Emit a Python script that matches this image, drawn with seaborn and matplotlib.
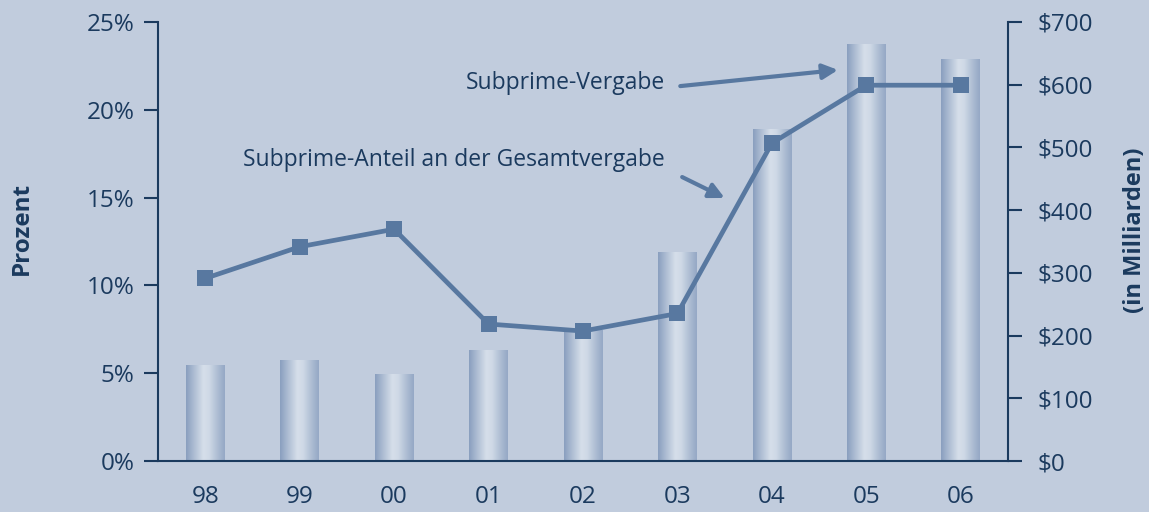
import matplotlib
matplotlib.use('Agg')
import matplotlib.pyplot as plt
import matplotlib.ticker as mticker
import numpy as np
import pandas as pd
import seaborn as sns

# data
years = ["98", "99", "00", "01", "02", "03", "04", "05", "06"]
vergabe_mrd = [153, 161, 139, 177, 209, 333, 529, 665, 641]        # bars, $ billion
anteil_pct = [10.4, 12.2, 13.2, 7.8, 7.4, 8.4, 18.1, 21.4, 21.4]   # line, percent

BG = "#C1CCDD"
NAVY = "#1B3A5E"
LINE = "#5878A0"

sns.set_style("white")
plt.rcParams['font.family'] = ['Open Sans', 'DejaVu Sans']

df = pd.DataFrame({"jahr": years, "vergabe": vergabe_mrd, "anteil": anteil_pct})

fig = plt.figure(figsize=(11.49, 5.12), dpi=100, facecolor=BG)
ax = fig.add_axes([158 / 1149, 51 / 512, 850 / 1149, 439 / 512])
ax2 = ax.twinx()

# bars on the dollar axis (drawn underneath)
sns.barplot(data=df, x="jahr", y="vergabe", ax=ax2, width=0.41, color="#A0B2CC",
            linewidth=0, saturation=1)
ax2.set_facecolor("white")
ax2.set_zorder(1)
ax.set_zorder(2)
ax.patch.set_visible(False)

# horizontal gradient inside each bar
prof = np.array([0.0, 0.15, 0.45, 0.6, 0.85, 1.0])
light = np.array([0.0, 0.35, 1.0, 0.9, 0.4, 0.15])
xs = np.linspace(0, 1, 64)
t = np.interp(xs, prof, light)
dark = np.array([0x8A, 0x9F, 0xBF]) / 255
lite = np.array([0xD6, 0xDF, 0xEA]) / 255
grad = (dark[None, :] * (1 - t[:, None]) + lite[None, :] * t[:, None])[None, :, :]
for p in ax2.patches:
    x0, y0 = p.get_x(), p.get_y()
    w, h = p.get_width(), p.get_height()
    p.set_facecolor("none")
    im = ax2.imshow(grad, extent=[x0, x0 + w, y0, y0 + h], aspect="auto",
                    interpolation="bicubic", zorder=2)
    im.set_clip_path(p)

# percentage line on the left axis
sns.lineplot(x=np.arange(len(years)), y=anteil_pct, ax=ax, color=LINE, lw=3.4,
             marker="s", markersize=12, markeredgewidth=0, zorder=5)

ax.set_xlim(-0.5, len(years) - 0.5)
ax2.set_xlim(-0.5, len(years) - 0.5)
ax.set_ylim(0, 25)
ax2.set_ylim(0, 700)

ax.set_yticks(range(0, 26, 5))
ax.yaxis.set_major_formatter(mticker.FuncFormatter(lambda v, _: f"{v:.0f}%"))
ax2.set_yticks(range(0, 701, 100))
ax2.yaxis.set_major_formatter(mticker.FuncFormatter(lambda v, _: f"${v:.0f}"))

ax.set_xticks(range(len(years)))
ax.set_xticklabels(years)
ax.set_xticks(np.arange(-0.5, len(years)), minor=True)
ax.tick_params(axis="x", which="major", length=0, pad=17, labelsize=17.5, labelcolor=NAVY)
ax.tick_params(axis="x", which="minor", length=10, width=1.5, color=NAVY, direction="out")
ax.tick_params(axis="y", length=10, width=1.5, color=NAVY, pad=7, labelsize=17.5,
               labelcolor=NAVY, left=True)
ax2.tick_params(axis="y", length=10, width=1.5, color=NAVY, pad=11, labelsize=17.5,
                labelcolor=NAVY, right=True)
ax2.tick_params(axis="x", length=0, labelbottom=False)
ax.set_xlabel("")
ax.set_ylabel("")
ax2.set_xlabel("")
ax2.set_ylabel("")

for a in (ax, ax2):
    a.spines["top"].set_visible(False)
    for s in ("left", "right", "bottom"):
        a.spines[s].set_color(NAVY)
        a.spines[s].set_linewidth(1.5)
ax.spines["right"].set_visible(False)
ax2.spines["left"].set_visible(False)
ax2.spines["bottom"].set_visible(False)

fig.text(22 / 1149, 1 - 228 / 512, "Prozent", rotation=90, ha="center", va="center",
         fontsize=17.5, fontweight="bold", color=NAVY)
fig.text(1135 / 1149, 1 - 230 / 512, "(in Milliarden)", rotation=90, ha="center",
         va="center", fontsize=17, fontweight="bold", color=NAVY)

arrow = dict(arrowstyle="-|>,head_length=0.9,head_width=0.45", color=LINE, lw=3,
             shrinkA=0, shrinkB=0)
ax.text(4.87, 21.5, "Subprime-Vergabe", ha="right", va="center", fontsize=16.5,
        color=NAVY)
ax.annotate("", xy=(6.70, 22.27), xytext=(5.03, 21.35), arrowprops=arrow)
ax.text(4.87, 17.14, "Subprime-Anteil an der Gesamtvergabe", ha="right", va="center",
        fontsize=16.5, color=NAVY)
ax.annotate("", xy=(5.50, 14.98), xytext=(5.05, 16.17), arrowprops=arrow)

fig.savefig("out.png", dpi=100, facecolor=BG)
